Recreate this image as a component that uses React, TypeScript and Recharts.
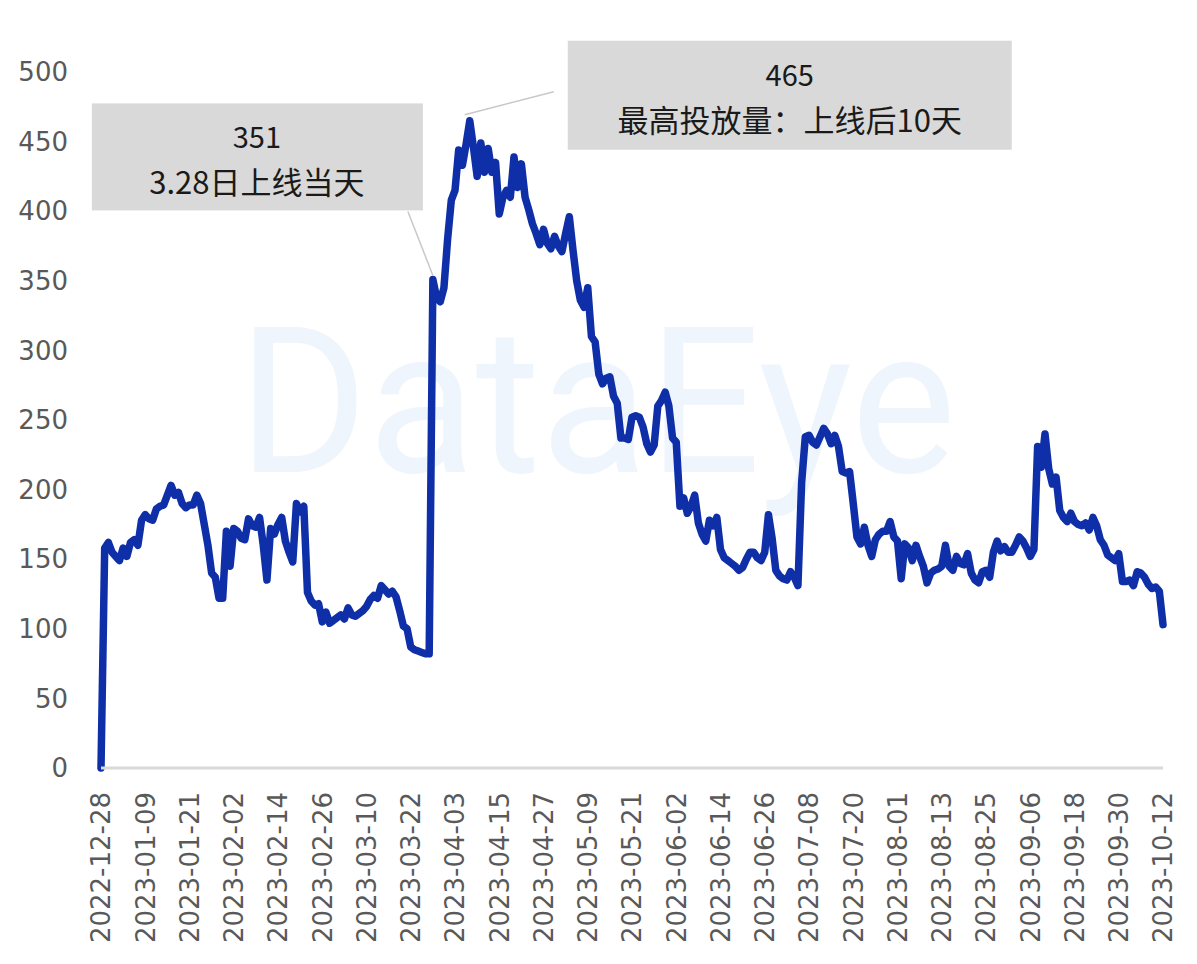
import { LineChart, Line, XAxis, YAxis, ReferenceDot } from "recharts"

// daily values, 2022-12-28 .. 2023-10-12
const dec2022 = [0, 158, 162, 155]
const jan2023 = [
  152, 149, 158, 152, 162, 164, 160, 178, 182, 179, 178, 186, 188, 189, 196, 203,
  196, 198, 190, 187, 189, 189, 196, 190, 175, 160, 140, 137, 122, 122, 170,
]
const feb2023 = [
  145, 172, 170, 165, 164, 179, 174, 173, 180, 160, 135, 172, 168, 175, 180, 163,
  155, 148, 190, 184, 188, 126, 120, 117, 118, 105, 112, 104,
]
const mar2023 = [
  106, 108, 110, 107, 115, 110, 109, 111, 113, 116, 121, 124, 122, 131, 128, 125,
  127, 123, 113, 102, 100, 87, 85, 84, 83, 82, 82, 351, 338, 335, 345,
]
const apr2023 = [
  380, 408, 415, 444, 433, 448, 465, 446, 425, 449, 428, 445, 428, 435, 398, 410,
  415, 410, 439, 417, 434, 410, 401, 391, 384, 376, 387, 377, 373, 382,
]
const may2023 = [
  375, 371, 384, 396, 372, 350, 336, 331, 345, 310, 306, 283, 276, 280, 281, 267,
  262, 237, 237, 236, 252, 253, 252, 245, 233, 227, 232, 260, 264, 270, 260,
]
const jun2023 = [
  237, 234, 188, 194, 183, 188, 196, 176, 168, 163, 178, 174, 180, 157, 151, 149,
  147, 145, 142, 144, 150, 155, 155, 151, 149, 155, 182, 165, 142, 138,
]
const jul2023 = [
  136, 135, 141, 137, 131, 205, 238, 239, 234, 232, 238, 244, 240, 233, 239, 231,
  213, 212, 213, 190, 166, 161, 173, 160, 152, 164, 168, 170, 170, 177, 166,
]
const aug2023 = [
  163, 136, 161, 158, 149, 160, 152, 145, 133, 140, 142, 143, 145, 160, 145, 142,
  152, 147, 146, 154, 140, 135, 133, 141, 142, 137, 155, 163, 156, 159, 155,
]
const sep2023 = [
  155, 160, 166, 163, 158, 152, 157, 231, 216, 240, 215, 204, 209, 185, 180, 177,
  183, 177, 175, 174, 176, 171, 180, 174, 164, 160, 153, 151, 149, 154,
]
const oct2023 = [134, 134, 135, 131, 141, 140, 137, 132, 129, 130, 127, 103]

const months = [
  { ym: "2022-12", first: 28, values: dec2022 },
  { ym: "2023-01", first: 1, values: jan2023 },
  { ym: "2023-02", first: 1, values: feb2023 },
  { ym: "2023-03", first: 1, values: mar2023 },
  { ym: "2023-04", first: 1, values: apr2023 },
  { ym: "2023-05", first: 1, values: may2023 },
  { ym: "2023-06", first: 1, values: jun2023 },
  { ym: "2023-07", first: 1, values: jul2023 },
  { ym: "2023-08", first: 1, values: aug2023 },
  { ym: "2023-09", first: 1, values: sep2023 },
  { ym: "2023-10", first: 1, values: oct2023 },
]

const yTicks = [0, 50, 100, 150, 200, 250, 300, 350, 400, 450, 500]

const launchDate = "2023-03-28"
const peakDate = "2023-04-07"
const launchLabel = ["351", "3.28日上线当天"]
const peakLabel = ["465", "最高投放量：上线后10天"]

const data = months.flatMap((m) =>
  m.values.map((v, i) => ({
    date: `${m.ym}-${String(m.first + i).padStart(2, "0")}`,
    value: v,
  }))
)
const valueAt = (d: string) => data.find((r) => r.date === d)!.value

const TICK_FONT = "'DejaVu Sans', sans-serif"
const NOTE_FONT = "'Noto Sans CJK SC', sans-serif"

function XTick({ x, y, payload }: any) {
  return (
    <g transform={`translate(${x},${y})`}>
      <text
        transform="rotate(-90)"
        x={-24}
        y={0}
        dy="0.36em"
        textAnchor="end"
        fill="#595959"
        fontSize={26}
        fontFamily={TICK_FONT}
      >
        {payload.value}
      </text>
    </g>
  )
}

// grey box with a leader line pointing at (cx, cy)
function Callout(props: any) {
  const { cx, cy, box, lead, lines, tx } = props
  const [bx, by, bw, bh] = box
  return (
    <g>
      <line
        x1={cx + lead[0]}
        y1={cy + lead[1]}
        x2={cx + lead[2]}
        y2={cy + lead[3]}
        stroke="#c8c8c8"
        strokeWidth={1.5}
      />
      <rect x={cx + bx} y={cy + by} width={bw} height={bh} fill="#d9d9d9" />
      <text
        x={cx + tx}
        y={cy + by + 45}
        textAnchor="middle"
        fill="#1a1a1a"
        fontSize={29}
        fontFamily={NOTE_FONT}
      >
        {lines[0]}
      </text>
      <text
        x={cx + tx}
        y={cy + by + 91}
        textAnchor="middle"
        fill="#1a1a1a"
        fontSize={31}
        fontFamily={NOTE_FONT}
      >
        {lines[1]}
      </text>
    </g>
  )
}

export default function App() {
  return (
    <div style={{ position: "relative", width: 1181, height: 948 }}>
      <svg
        width={1181}
        height={948}
        style={{ position: "absolute", left: 0, top: 0 }}
      >
        <text
          x={230}
          y={464}
          fontSize={204}
          fontFamily="Roboto, sans-serif"
          fill="#eff5fc"
          textLength={718}
          lengthAdjust="spacingAndGlyphs"
        >
          DataEye
        </text>
      </svg>
      <LineChart
        width={1181}
        height={948}
        data={data}
        margin={{ top: 64, right: 26, bottom: 8, left: 0 }}
      >
        <XAxis
          dataKey="date"
          interval={11}
          height={180}
          tickSize={0}
          tickMargin={0}
          tickLine={false}
          axisLine={{ stroke: "#d9d9d9", strokeWidth: 3 }}
          tick={<XTick />}
        />
        <YAxis
          width={93}
          domain={[0, 500]}
          ticks={yTicks}
          axisLine={false}
          tickLine={false}
          tickSize={0}
          tickMargin={33}
          tick={{ fill: "#595959", fontSize: 26, fontFamily: TICK_FONT }}
        />
        <Line
          type="linear"
          dataKey="value"
          stroke="#0e2fa8"
          strokeWidth={7.5}
          strokeLinejoin="round"
          strokeLinecap="round"
          dot={false}
          isAnimationActive={false}
        />
        <ReferenceDot
          x={launchDate}
          y={valueAt(launchDate)}
          r={0}
          shape={(p: any) => (
            <Callout
              {...p}
              box={[-341, -176, 331, 107]}
              lead={[-25, -68, 0, -4]}
              lines={launchLabel}
              tx={-176}
            />
          )}
        />
        <ReferenceDot
          x={peakDate}
          y={valueAt(peakDate)}
          r={0}
          shape={(p: any) => (
            <Callout
              {...p}
              box={[98, -80, 444, 109]}
              lead={[-5, -6, 84, -29]}
              lines={peakLabel}
              tx={320}
            />
          )}
        />
      </LineChart>
    </div>
  )
}
